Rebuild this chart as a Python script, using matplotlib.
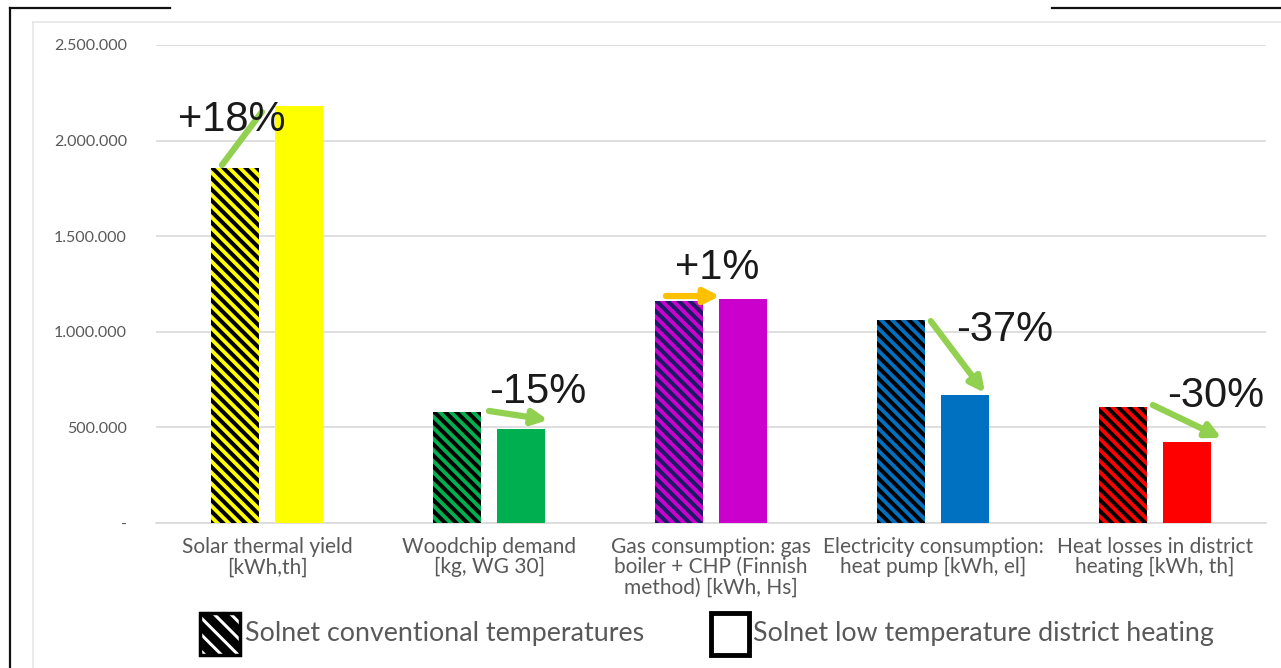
import matplotlib
matplotlib.use("Agg")
import matplotlib.pyplot as plt
from matplotlib.patches import Rectangle
from matplotlib.lines import Line2D
from matplotlib.ticker import FuncFormatter

# ---- data ----
categories = [
    "Solar thermal yield\n[kWh,th]",
    "Woodchip demand\n[kg, WG 30]",
    "Gas consumption: gas\nboiler + CHP (Finnish\nmethod) [kWh, Hs]",
    "Electricity consumption:\nheat pump [kWh, el]",
    "Heat losses in district\nheating [kWh, th]",
]
conventional = [1856000, 580000, 1162000, 1062000, 605000]
low_temp = [2181000, 492000, 1172000, 669000, 423000]
changes = ["+18%", "-15%", "+1%", "-37%", "-30%"]
yticks = [0, 500000, 1000000, 1500000, 2000000, 2500000]

# ---- styling ----
bar_colors = ["#ffff00", "#00b050", "#cc00cc", "#0070c0", "#ff0000"]
hatch_colors = ["#000000", "#000000", "#1c1a66", "#000000", "#000000"]
arrow_colors = ["#92d050", "#92d050", "#ffc000", "#92d050", "#92d050"]
arrow_heads = [False, True, True, True, True]
# arrow start: offset from the conventional bar's top centre;
# arrow end: offset from the low-temperature bar's top centre
arrow_start = [(-0.059, 16000), (0.144, 6000), (-0.059, 25000), (0.134, -6000), (0.134, 12000)]
arrow_end = [(-0.167, -31000), (0.122, 47000), (-0.104, 15000), (0.09, 11000), (0.156, 22000)]
label_pos = [(-0.158, 2108000), (1.221, 685000), (2.03, 1334000), (3.324, 1009000), (4.275, 664000)]

grey = "#595959"
grid_grey = "#d9d9d9"
plt.rcParams["hatch.linewidth"] = 2.9

fig = plt.figure(figsize=(12.81, 6.68), dpi=100)
ax = fig.add_axes([156 / 1281, 1 - 523 / 668, 1110 / 1281, 478 / 668])

x = list(range(len(categories)))
width = 0.22
offset = 0.144

for i in x:
    ax.bar(i - offset, conventional[i], width, color=bar_colors[i],
           edgecolor=hatch_colors[i], linewidth=0, hatch="\\\\\\", zorder=3)
    ax.bar(i + offset, low_temp[i], width, color=bar_colors[i],
           linewidth=0, zorder=3)

    sx = i - offset + arrow_start[i][0]
    sy = conventional[i] + arrow_start[i][1]
    ex = i + offset + arrow_end[i][0]
    ey = low_temp[i] + arrow_end[i][1]
    style = "-|>" if arrow_heads[i] else "-"
    ax.annotate("", xy=(ex, ey), xytext=(sx, sy),
                arrowprops=dict(arrowstyle=style, color=arrow_colors[i], lw=4.5,
                                mutation_scale=22, shrinkA=0, shrinkB=0),
                zorder=4)
    ax.text(label_pos[i][0], label_pos[i][1], changes[i], ha="center", va="center",
            fontsize=30, family="Liberation Sans", color="#1a1a1a", zorder=5)

ax.set_xlim(-0.5, 4.5)
ax.set_ylim(0, 2500000)
ax.set_yticks(yticks)
ax.yaxis.set_major_formatter(FuncFormatter(
    lambda v, p: "-" if v == 0 else f"{int(v):,}".replace(",", ".")))
ax.set_xticks(x)
ax.set_xticklabels(categories, fontsize=15, color=grey, family="Lato", linespacing=1.02)
for lab in ax.get_yticklabels():
    lab.set_fontsize(11.5)
    lab.set_color(grey)
    lab.set_family("Lato")
ax.tick_params(axis="both", length=0)
ax.tick_params(axis="y", pad=21)
ax.tick_params(axis="x", pad=10)
ax.grid(axis="y", color=grid_grey, linewidth=1.2, zorder=0)
for s in ["top", "right", "left"]:
    ax.spines[s].set_visible(False)
ax.spines["bottom"].set_color(grid_grey)
ax.spines["bottom"].set_linewidth(1.2)

# ---- frame lines ----
W, H = 1281, 668
def fline(x0, y0, x1, y1, color, lw):
    fig.add_artist(Line2D([x0 / W, x1 / W], [1 - y0 / H, 1 - y1 / H],
                          color=color, linewidth=lw, transform=fig.transFigure))

fline(10, 8, 170, 8, "#111111", 1.6)
fline(1052, 8, 1281, 8, "#111111", 1.6)
fline(10, 8, 10, 668, "#111111", 1.6)
fline(33, 22, 1281, 22, "#e6e6e6", 1.2)
fline(33, 22, 33, 668, "#e6e6e6", 1.2)

# ---- legend ----
with plt.rc_context({"hatch.linewidth": 2.2}):
    fig.add_artist(Rectangle((200 / W, 1 - 655 / H), 40 / W, 42 / H, transform=fig.transFigure,
                             facecolor="black", edgecolor="white", linewidth=0,
                             hatch="\\\\"))
fig.add_artist(Rectangle((200 / W, 1 - 655 / H), 40 / W, 42 / H, transform=fig.transFigure,
                         facecolor="none", edgecolor="black", linewidth=2.5))
fig.text(245 / W, 1 - 634 / H, "Solnet conventional temperatures", fontsize=19.3,
         color=grey, family="Lato", va="center", ha="left")
fig.add_artist(Rectangle((711 / W, 1 - 655 / H), 38 / W, 42 / H, transform=fig.transFigure,
                         facecolor="white", edgecolor="black", linewidth=3.5))
fig.text(753 / W, 1 - 634 / H, "Solnet low temperature district heating", fontsize=19.3,
         color=grey, family="Lato", va="center", ha="left")

fig.savefig("out.png", dpi=100, facecolor="white")
